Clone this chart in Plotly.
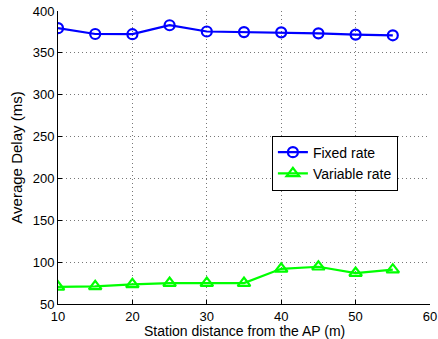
import plotly.graph_objects as go

distance = [10, 15, 20, 25, 30, 35, 40, 45, 50, 55]
fixed_rate = [379.5, 372.5, 372.3, 383, 375.5, 374.8, 374.5, 373.3, 371.8, 371]
variable_rate = [70.5, 71, 73.5, 75, 75, 75, 92, 94.5, 87, 91]

x_ticks = [10, 20, 30, 40, 50, 60]
y_ticks = [50, 100, 150, 200, 250, 300, 350, 400]
x_title = "Station distance from the AP (m)"
y_title = "Average Delay (ms)"

fig = go.Figure()
fig.add_trace(go.Scatter(
    x=distance, y=fixed_rate, name="Fixed rate", mode="lines+markers",
    line=dict(color="#0000FF", width=2.2),
    marker=dict(symbol="circle-open", size=10, color="#0000FF", line=dict(width=2.2)),
))
fig.add_trace(go.Scatter(
    x=distance, y=variable_rate, name="Variable rate", mode="lines+markers",
    line=dict(color="#00FF00", width=2.2),
    marker=dict(symbol="triangle-up-open", size=11, color="#00FF00", line=dict(width=2.2)),
))

font = dict(family="Liberation Sans, Arial, sans-serif", size=13, color="#000000")
fig.update_layout(
    width=438, height=339,
    margin=dict(l=58, r=8, t=11, b=35),
    paper_bgcolor="white", plot_bgcolor="white",
    font=font,
    showlegend=True,
    legend=dict(x=0.575, y=0.575, xanchor="left", yanchor="top",
                bordercolor="#000000", borderwidth=1, bgcolor="white",
                font=dict(family="Liberation Sans, Arial, sans-serif", size=14),
                tracegroupgap=0, itemwidth=30),
    annotations=[dict(text=x_title, xref="paper", yref="paper", x=0.5, y=0,
                      xanchor="center", yanchor="top", yshift=-17, showarrow=False,
                      font=dict(size=14))],
)
fig.update_xaxes(
    range=[10, 60], tickvals=x_ticks, ticks="inside", ticklen=4, tickcolor="#000",
    showline=True, linecolor="#000", linewidth=1, mirror=False,
    showgrid=True, gridcolor="#777", griddash="1px,3px", gridwidth=1,
    zeroline=False, automargin=False, ticklabelstandoff=0,
)
fig.update_yaxes(
    range=[50, 400], tickvals=y_ticks, ticks="inside", ticklen=4, tickcolor="#000",
    showline=True, linecolor="#000", linewidth=1, mirror=False,
    showgrid=True, gridcolor="#777", griddash="1px,3px", gridwidth=1,
    zeroline=False, automargin=False,
    title=dict(text=y_title, standoff=6, font=dict(size=15)),
)
fig.write_html("out.html", config={"displayModeBar": False},
               post_script="document.body.style.margin='0';")
